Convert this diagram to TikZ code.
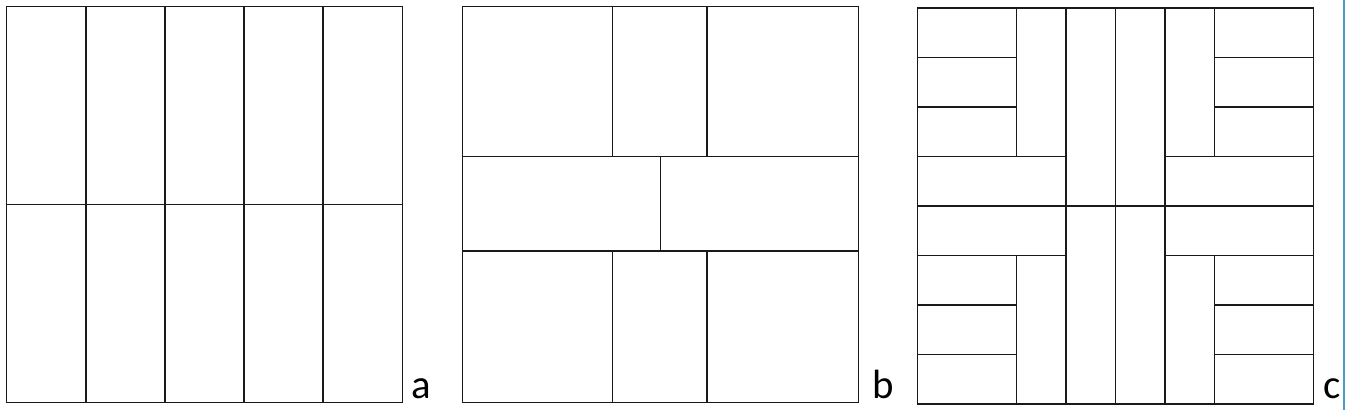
\documentclass[tikz,border=0pt]{standalone}
\usepackage{fontspec}
\setmainfont{Carlito}
\usepackage{tikz}
\usetikzlibrary{calc}

\begin{document}
\begin{tikzpicture}[x=1bp,y=-1bp,line width=1.9bp,line cap=rect]
    \definecolor{edgeblue}{HTML}{4A9BD2}
    \definecolor{tileline}{HTML}{1A1A1A}
    \def\u{49.5}
    \useasboundingbox (0,0) rectangle (1345,409);
    \path (6.5,6.5) coordinate (A) (462.5,6.5) coordinate (B) (917.5,8) coordinate (C);
    % a: ten strips
    \begin{scope}[shift={(A)},x=\u bp,y=-\u bp,tileline]
     \draw (0,0) rectangle (8,8) (0,4) -- (8,4);
    \foreach \x in {1.6,3.2,4.8,6.4} \draw (\x,0) -- (\x,8);
    \end{scope}
    % b: three rows
    \begin{scope}[shift={(B)},x=\u bp,y=-\u bp,tileline]
     \draw (0,0) rectangle (8,8) (0,3.03) -- (8,3.03) (0,4.94) -- (8,4.94);
     \draw (4,3.03) -- (4,4.94);
    \foreach \y/\z in {0/3.03,4.94/8} \draw (3.03,\y) -- (3.03,\z) (4.94,\y) -- (4.94,\z);
    \end{scope}
    % c: basket weave
    \begin{scope}[shift={(C)},x=\u bp,y=-\u bp,tileline]
     \draw (0,0) rectangle (8,8) (0,4) -- (8,4);
    \foreach \x in {3,4,5} \draw (\x,0) -- (\x,8);
    \foreach \x in {2,6} \draw (\x,0) -- (\x,3) (\x,5) -- (\x,8);
    \foreach \y in {3,5} \draw (0,\y) -- (3,\y) (5,\y) -- (8,\y);
    \foreach \y in {1,2,6,7} \draw (0,\y) -- (2,\y) (6,\y) -- (8,\y);
    \end{scope}
    \foreach \n/\t/\x in {la/a/411,lb/b/871.5,lc/c/1323}
     \node[anchor=base west,inner sep=0,font=\fontsize{41}{48}\selectfont] (\n) at (\x,398.5) {\t};
    \draw[edgeblue,line width=1.4bp] (1344,0) -- (1344,409);
    \end{tikzpicture}
\end{document}
